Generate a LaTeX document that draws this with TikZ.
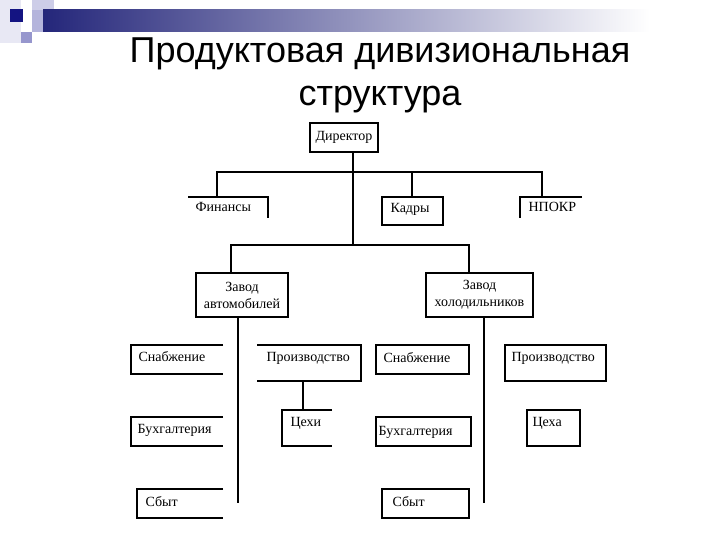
\documentclass[tikz,border=0pt]{standalone}
\usepackage{fontspec}
\setmainfont{Liberation Serif}
\newfontfamily\titlefont{Liberation Sans}
\definecolor{navyA}{RGB}{20,20,130}
\definecolor{barA}{RGB}{36,38,122}
\definecolor{lavA}{RGB}{205,205,232}
\definecolor{lavB}{RGB}{150,150,205}
\definecolor{lavC}{RGB}{180,180,220}
\definecolor{lavD}{RGB}{232,232,244}
\newcommand{\mkbox}[5]{\node[boxshape, minimum width={(#4-#2)*1pt}, minimum height={(#5-#3)*1pt}] (#1) at ({(#2+#4)/2},{(#3+#5)/2}) {};}
\begin{document}
\begin{tikzpicture}[x=1pt,y=-1pt,
  line width=1.2pt,
  boxshape/.style={inner sep=0pt, outer sep=0pt, draw=none, rectangle},
  lbl/.style={font=\fontsize{14}{15}\selectfont, inner sep=0pt, anchor=west},
  clbl/.style={font=\fontsize{14}{17}\selectfont, inner sep=0pt, align=center},
  ttl/.style={font=\titlefont\fontsize{36}{43}\selectfont, align=center, inner sep=0pt}]
\useasboundingbox (0,0) rectangle (720,540);
\fill[white] (0,0) rectangle (720,540);
% decoration
\fill[lavD] (0,0) rectangle (21,43);
\fill[lavA] (32,0) rectangle (54,22);
\shade[left color=barA, right color=white] (43,10) rectangle (650,32);
\fill[lavC] (32,10) rectangle (43,32);
\fill[lavB] (21,32) rectangle (32,43);
\fill[navyA] (10,9) rectangle (23,22);
% title
\node[ttl] (title) at (380,75) {Продуктовая дивизиональная\\структура};
% boxes
\mkbox{dir}{310}{123}{378}{152}
\mkbox{fin}{188}{197}{268}{218}
\mkbox{kad}{382}{197}{443}{225}
\mkbox{npo}{520}{197}{582}{218}
\mkbox{za}{196}{273}{288}{317}
\mkbox{zh}{426}{273}{533}{317}
\mkbox{snL}{131}{345}{223}{374}
\mkbox{prL}{257}{345}{361}{381}
\mkbox{ceL}{282}{410}{332}{446}
\mkbox{buL}{131}{417}{223}{446}
\mkbox{sbL}{137}{489}{223}{518}
\mkbox{snR}{376}{345}{469}{374}
\mkbox{prR}{505}{345}{606}{381}
\mkbox{ceR}{527}{410}{580}{446}
\mkbox{buR}{376}{417}{471}{446}
\mkbox{sbR}{382}{489}{469}{518}
% visible edges
\draw (dir.north west) rectangle (dir.south east);
\draw (fin.north west) -- (fin.north east) -- (fin.south east);
\draw (kad.north west) rectangle (kad.south east);
\draw (npo.north east) -- (npo.north west) -- (npo.south west);
\draw (za.north west) rectangle (za.south east);
\draw (zh.north west) rectangle (zh.south east);
\draw (snL.north east) -- (snL.north west) -- (snL.south west) -- (snL.south east);
\draw (prL.north west) -- (prL.north east) -- (prL.south east) -- (prL.south west);
\draw (ceL.north east) -- (ceL.north west) -- (ceL.south west) -- (ceL.south east);
\draw (buL.north east) -- (buL.north west) -- (buL.south west) -- (buL.south east);
\draw (sbL.north east) -- (sbL.north west) -- (sbL.south west) -- (sbL.south east);
\draw (snR.north west) rectangle (snR.south east);
\draw (prR.north west) rectangle (prR.south east);
\draw (ceR.north west) rectangle (ceR.south east);
\draw (buR.north west) rectangle (buR.south east);
\draw (sbR.north west) rectangle (sbR.south east);
% labels
\node[clbl] (tdir) at (dir.center) {Директор};
\node[lbl] (tfin) at (195,207) {Финансы};
\node[lbl] (tkad) at (390,209) {Кадры};
\node[lbl] (tnpo) at (528,207) {НПОКР};
\node[clbl] (tza) at (za.center) {Завод\\автомобилей};
\node[clbl] (tzh) at (zh.center) {Завод\\холодильников};
\node[lbl] (tsnL) at (138,357) {Снабжение};
\node[lbl] (tprL) at (266,358) {Производство};
\node[lbl] (tceL) at (290,423) {Цехи};
\node[lbl] (tbuL) at (137,430) {Бухгалтерия};
\node[lbl] (tsbL) at (145,502) {Сбыт};
\node[lbl] (tsnR) at (383,358) {Снабжение};
\node[lbl] (tprR) at (511,358) {Производство};
\node[lbl] (tceR) at (532,423) {Цеха};
\node[lbl] (tbuR) at (378,432) {Бухгалтерия};
\node[lbl] (tsbR) at (392,502) {Сбыт};
% bus coordinates
\coordinate (b1) at (353,172);
\coordinate (b1l) at (217,172);
\coordinate (b1k) at (412,172);
\coordinate (b1r) at (542,172);
\coordinate (b2) at (353,245);
\coordinate (b2l) at (231,245);
\coordinate (b2r) at (469,245);
\coordinate (ea) at (238,503);
\coordinate (eh) at (484,503);
% connectors
\draw (b1 |- dir.south) -- (b2);
\draw (b1l |- fin.north) -- (b1l) -- (b1r) -- (b1r |- npo.north);
\draw (b1k) -- (b1k |- kad.north);
\draw (b2l |- za.north) -- (b2l) -- (b2r) -- (b2r |- zh.north);
\draw (ea |- za.south) -- (ea);
\draw (eh |- zh.south) -- (eh);
\draw (303,0 |- prL.south) -- (303,0 |- ceL.north);
\end{tikzpicture}
\end{document}
